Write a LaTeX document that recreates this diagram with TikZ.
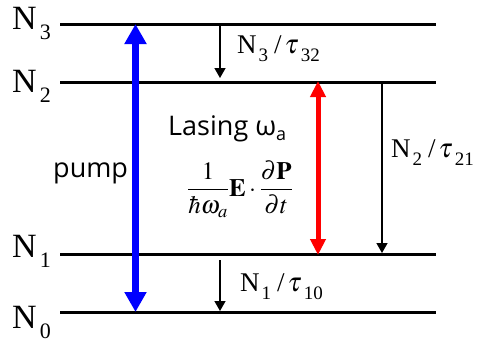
\documentclass[tikz,border=0pt]{standalone}
\usepackage{amsmath}
\usepackage{mathptmx}
\usepackage{fontspec}
\setmainfont{Liberation Serif}
\newfontfamily\comic{Open Sans}
\usetikzlibrary{arrows.meta}
\newcommand{\levsub}[1]{\kern3pt\raisebox{-10pt}{\fontsize{22}{22}\selectfont #1}}
\newcommand{\ratesub}[1]{\kern2pt\raisebox{-8pt}{\fontsize{19}{19}\selectfont #1}}
\tikzset{
  level/.style={line width=3pt},
  levlabel/.style={anchor=base west, inner sep=0pt, font=\fontsize{34}{40}\selectfont},
  ratelabel/.style={anchor=base west, inner sep=0pt, font=\fontsize{27}{32}\selectfont},
  decay/.style={line width=1.4pt, -{Triangle[width=11pt,length=10pt]}},
  pumparrow/.style={draw=blue, line width=6.5pt, {Triangle[width=21pt,length=20pt]}-{Triangle[width=21pt,length=20pt]}, blue},
  lasearrow/.style={draw=red, line width=5pt, {Triangle[width=15pt,length=16pt]}-{Triangle[width=15pt,length=16pt]}, red},
  comictext/.style={anchor=base west, inner sep=0pt, font=\comic\fontsize{27}{32}\selectfont}
}
\begin{document}
\begin{tikzpicture}[x=1pt,y=-1pt]
\useasboundingbox (0,0) rectangle (488,343);
% levels
\coordinate (L3a) at (60,24);  \coordinate (L3b) at (436,24);
\coordinate (L2a) at (60,82);  \coordinate (L2b) at (436,82);
\coordinate (L1a) at (60,254); \coordinate (L1b) at (436,254);
\coordinate (L0a) at (60,312); \coordinate (L0b) at (436,312);
\draw[level] (L3a) -- (L3b);
\draw[level] (L2a) -- (L2b);
\draw[level] (L1a) -- (L1b);
\draw[level] (L0a) -- (L0b);
% level labels
\node[levlabel] (n3) at (12,29) {N\levsub{3}};
\node[levlabel] (n2) at (12,92) {N\levsub{2}};
\node[levlabel] (n1) at (12,257) {N\levsub{1}};
\node[levlabel] (n0) at (12,328) {N\levsub{0}};
% pump
\coordinate (pb) at (135.5,312);
\coordinate (pt) at (135.5,24);
\draw[pumparrow] (pb) -- (pt);
\node[comictext] (pump) at (53,177) {pump};
% lasing
\coordinate (lt) at (318,81);
\coordinate (lb) at (318,255);
\draw[lasearrow] (lt) -- (lb);
\node[comictext] (lasing) at (168,135) {Lasing ω\raisebox{-0.22em}{\fontsize{18}{18}\selectfont a}};
\node[inner sep=0pt, font=\fontsize{25}{30}\selectfont] (formula) at (240,189)
  {$\dfrac{1}{\hbar\omega_a}\mathbf{E}\cdot\dfrac{\partial\mathbf{P}}{\partial t}$};
% decays
\coordinate (d32a) at (220,25.5); \coordinate (d32b) at (220,78);
\draw[decay] (d32a) -- (d32b);
\node[ratelabel] (r32) at (237,53) {N\ratesub{3}\kern6pt/\kern3pt$\tau$\ratesub{32}};
\coordinate (d21a) at (382,83.5); \coordinate (d21b) at (382,253);
\draw[decay] (d21a) -- (d21b);
\node[ratelabel] (r21) at (391,157) {N\ratesub{2}\kern6pt/\kern3pt$\tau$\ratesub{21}};
\coordinate (d10a) at (220,260); \coordinate (d10b) at (220,311);
\draw[decay] (d10a) -- (d10b);
\node[ratelabel] (r10) at (240,291) {N\ratesub{1}\kern6pt/\kern3pt$\tau$\ratesub{10}};
\end{tikzpicture}
\end{document}
